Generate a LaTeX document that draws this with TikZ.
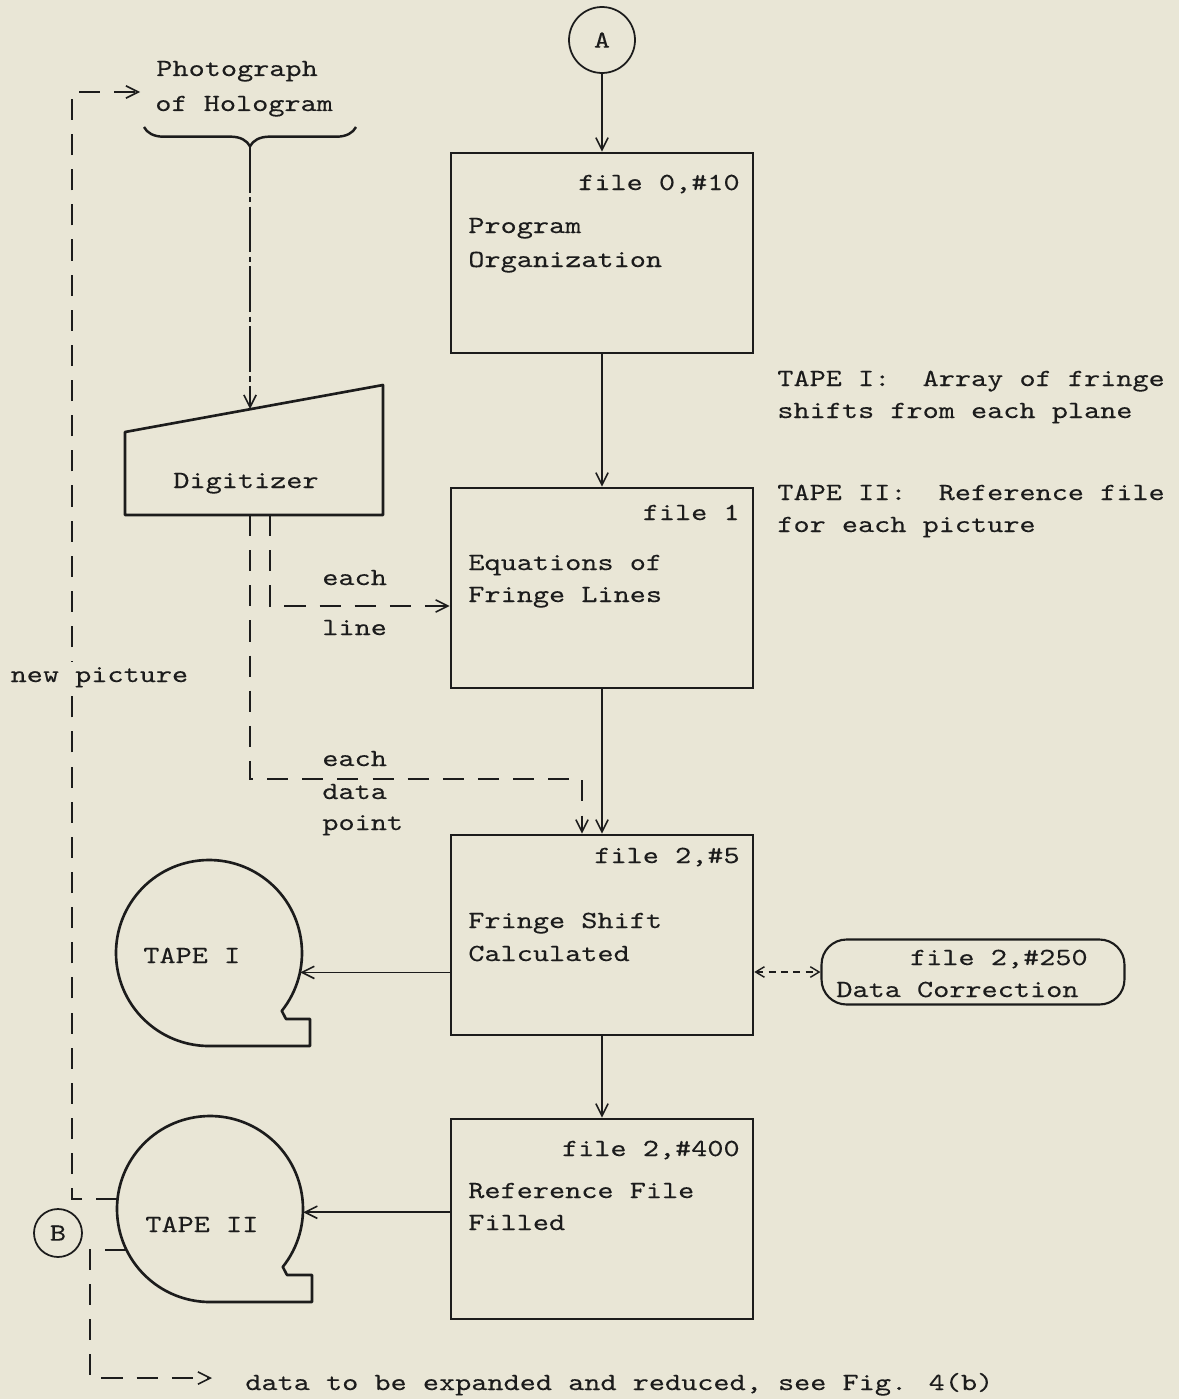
\documentclass[tikz,border=0pt]{standalone}
\usepackage{fontspec}
\newfontfamily\tw{lmmono10-regular.otf}[FakeStretch=1.25,FakeBold=0.15]
\usetikzlibrary{arrows.meta,decorations.pathreplacing,calc}
\definecolor{paper}{RGB}{233,230,214}
\definecolor{ink}{RGB}{28,28,28}
\begin{document}
\begin{tikzpicture}[x=0.02cm,y=-0.02cm,
  lbl/.style={font=\tw\fontsize{14}{18}\selectfont, inner sep=0pt, text=ink},
  box/.style={draw=ink, line width=1.5pt, minimum width=6.04cm, minimum height=4cm, inner sep=0pt},
  shp/.style={draw=ink, line width=1.5pt, line join=round},
  tip/.style={-{Straight Barb[length=7pt,width=7pt,line width=0.9pt]}},
  arr/.style={draw=ink, line width=0.9pt, tip},
  dsh/.style={draw=ink, line width=1.1pt, dash pattern=on 12pt off 8pt},
  conn/.style={circle, draw=ink, line width=1pt, inner sep=0pt}]

\fill[paper] (0,0) rectangle (1179,1399);
\useasboundingbox (0,0) rectangle (1179,1399);

% connector A and main boxes
\node[conn, minimum size=1.32cm, lbl] (A) at (602,40) {A};
\node[box] (b0) at (602,253) {};
\node[box] (b1) at (602,588) {};
\node[box] (b2) at (602,935) {};
\node[box] (b3) at (602,1219) {};

\draw[arr] (A) -- (b0);
\draw[arr] (b0) -- (b1);
\draw[arr] (b1) -- (b2);
\draw[arr] (b2) -- (b3);

% box texts
\node[lbl, anchor=base east] (f0) at (740,190) {file 0,\#10};
\node[lbl, anchor=base west] (t0a) at (468,233) {Program};
\node[lbl, anchor=base west] (t0b) at (468,267) {Organization};

\node[lbl, anchor=base east] (f1) at (740,520) {file 1};
\node[lbl, anchor=base west] (t1a) at (468,570) {Equations of};
\node[lbl, anchor=base west] (t1b) at (468,602) {Fringe Lines};

\node[lbl, anchor=base east] (f2) at (740,863) {file 2,\#5};
\node[lbl, anchor=base west] (t2a) at (468,928) {Fringe Shift};
\node[lbl, anchor=base west] (t2b) at (468,961) {Calculated};

\node[lbl, anchor=base east] (f3) at (740,1156) {file 2,\#400};
\node[lbl, anchor=base west] (t3a) at (468,1198) {Reference File};
\node[lbl, anchor=base west] (t3b) at (468,1230) {Filled};

% right notes
\node[lbl, anchor=base west] (n1) at (777,386) {TAPE I:\ \ Array of fringe};
\node[lbl, anchor=base west] (n2) at (777,418) {shifts from each plane};
\node[lbl, anchor=base west] (n3) at (777,500) {TAPE II:\ \ Reference file};
\node[lbl, anchor=base west] (n4) at (777,532) {for each picture};

% photograph and brace
\node[lbl, anchor=base west] (ph1) at (156,76) {Photograph};
\node[lbl, anchor=base west] (ph2) at (155,111) {of Hologram};
\draw[ink, line width=1.4pt, decorate, decoration={brace, mirror, amplitude=11pt}] (144,127) -- (356,127);
\coordinate (brtip) at (250,147);

% digitizer
\draw[shp] (125,432) -- (383,385) -- (383,515) -- (125,515) -- cycle;
\node[lbl, anchor=base west] (dg) at (173,488) {Digitizer};
\coordinate (dgtop) at (250,409);
\coordinate (dg1) at (250,515);
\coordinate (dg2) at (270,515);

\draw[ink, line width=1pt, dash pattern=on 26pt off 2.5pt on 3pt off 2.5pt, tip] (brtip) -- (dgtop);

% dashed data flows from digitizer
\draw[dsh, tip] (dg2) -- (270,606) -- (b1.west |- 0,606);
\node[lbl, anchor=base west] (e1) at (322,585) {each};
\node[lbl, anchor=base west] (e2) at (322,635) {line};

\draw[dsh, tip] (dg1) -- (250,779) -- (582,779) -- (582,0 |- b2.north);
\node[lbl, anchor=base west] (d1) at (322,766) {each};
\node[lbl, anchor=base west] (d2) at (322,799) {data};
\node[lbl, anchor=base west] (d3) at (322,830) {point};

% tapes
\begin{scope}[shift={(209,953)}]
  \draw[shp] (38.5:93) arc[start angle=38.5, end angle=-270, radius=93] -- (101,93) -- (101,66) -- (77,66) -- cycle;
  \node[circle, minimum size=3.72cm, inner sep=0pt] (tp1) at (0,0) {};
\end{scope}
\node[lbl, anchor=base west] (tp1t) at (143,963) {TAPE I};

\begin{scope}[shift={(210,1209)}]
  \draw[shp] (38.5:93) arc[start angle=38.5, end angle=-270, radius=93] -- (102,93) -- (102,66) -- (77,66) -- cycle;
  \node[circle, minimum size=3.72cm, inner sep=0pt] (tp2) at (0,0) {};
\end{scope}
\node[lbl, anchor=base west] (tp2t) at (145,1232) {TAPE II};

\draw[arr] (b2.west |- tp1.-12.4) -- (tp1.-12.4);
\draw[arr] (b3.west |- tp2.-2) -- (tp2.-2);

% data correction
\node[draw=ink, line width=1.2pt, rounded corners=0.5cm, minimum width=6.06cm, minimum height=1.3cm] (dc) at (973,972) {};
\node[lbl, anchor=base east] (dc1) at (1088,965) {file 2,\#250};
\node[lbl, anchor=base west] (dc2) at (836,997) {Data Correction};
\draw[ink, line width=0.8pt, dash pattern=on 4pt off 3pt, {Straight Barb[length=5pt,width=6pt,line width=0.8pt]}-{Straight Barb[length=5pt,width=6pt,line width=0.8pt]}] (b2.east |- dc.west) -- (dc.west);

% new picture loop
\coordinate (phin) at (140,92);
\draw[dsh, tip] (tp2.174.4) -- (72,0 |- tp2.174.4) -- (72,92) -- (phin);
\node[lbl, fill=paper, inner sep=3pt, anchor=base west] (np) at (5,682) {new picture};

% connector B and output
\node[conn, minimum size=0.96cm, lbl] (B) at (58,1233) {B};
\coordinate (outend) at (212,1378);
\draw[dsh, tip] (tp2.206.3) -- (90,0 |- tp2.206.3) -- (90,1378) -- (outend);
\node[lbl, anchor=base west] (outt) at (245,1390) {data to be expanded and reduced, see Fig. 4(b)};
\end{tikzpicture}
\end{document}
